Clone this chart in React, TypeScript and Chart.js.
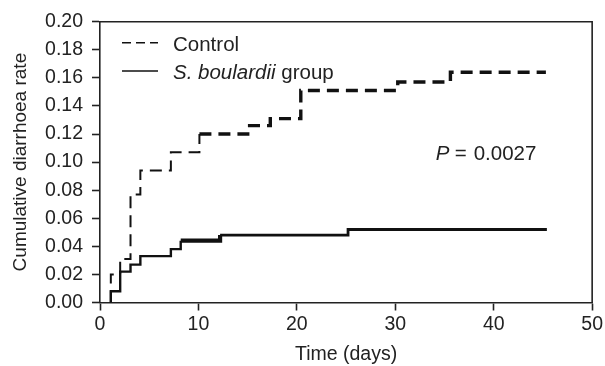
import { useEffect, useRef } from 'react';
import { Chart, registerables } from 'chart.js';

Chart.register(...registerables);

// ---- data ----
const controlDays = [1.1, 1.1, 2.05, 3.1, 4.1, 7.2, 10.1, 15.2, 17.3, 20.4, 30.25, 35.6, 45.3];
const controlRates = [0, 0.02, 0.031, 0.077, 0.094, 0.107, 0.12, 0.126, 0.131, 0.151, 0.157, 0.164, 0.164];
const boulardiiDays = [1.1, 1.1, 2.05, 3.1, 4.1, 7.2, 8.2, 12.2, 25.2, 45.4];
const boulardiiRates = [0, 0.008, 0.022, 0.027, 0.033, 0.038, 0.044, 0.048, 0.052, 0.052];
const xTickValues = [0, 10, 20, 30, 40, 50];
const yTickValues = [0, 0.02, 0.04, 0.06, 0.08, 0.1, 0.12, 0.14, 0.16, 0.18, 0.2];
const seriesNames = ['Control', 'S. boulardii', ' group'];
const pLetter = 'P';
const pEquals = '=';
const pNumber = '0.0027';
const xTitle = 'Time (days)';
const yTitle = 'Cumulative diarrhoea rate';

const FONT = "'Liberation Sans', Arial, Helvetica, sans-serif";
const INK = '#222';
const LINE = '#111';

const overlayPlugin = {
  id: 'overlay',
  afterDraw(chart: any) {
    const { ctx, chartArea } = chart;
    const { left, right, top, bottom } = chartArea;
    ctx.save();
    // top and right frame
    ctx.strokeStyle = INK;
    ctx.lineWidth = 1.6;
    ctx.setLineDash([]);
    ctx.beginPath();
    ctx.moveTo(left, top);
    ctx.lineTo(right, top);
    ctx.lineTo(right, bottom);
    ctx.stroke();

    // legend
    const lx0 = left + 22;
    const lx1 = left + 58;
    const tx = left + 73;
    const y1 = top + 21;
    const y2 = top + 49.3;
    ctx.strokeStyle = LINE;
    ctx.lineWidth = 1.6;
    ctx.setLineDash([9, 5]);
    ctx.beginPath();
    ctx.moveTo(lx0, y1);
    ctx.lineTo(lx1, y1);
    ctx.stroke();
    ctx.setLineDash([]);
    ctx.beginPath();
    ctx.moveTo(lx0, y2);
    ctx.lineTo(lx1, y2);
    ctx.stroke();

    ctx.fillStyle = INK;
    ctx.textAlign = 'left';
    ctx.textBaseline = 'alphabetic';
    ctx.font = `20.5px ${FONT}`;
    ctx.fillText(seriesNames[0], tx, y1 + 8.5);
    ctx.font = `italic 20.5px ${FONT}`;
    ctx.fillText(seriesNames[1], tx, y2 + 7.5);
    const w = ctx.measureText(seriesNames[1]).width;
    ctx.font = `20.5px ${FONT}`;
    ctx.fillText(seriesNames[2], tx + w, y2 + 7.5);

    // P value
    const px = chart.scales.x.getPixelForValue(34.1);
    const py = chart.scales.y.getPixelForValue(0.1013);
    ctx.font = `italic 20.5px ${FONT}`;
    ctx.fillText(pLetter, px, py);
    ctx.font = `20.5px ${FONT}`;
    ctx.fillText(pEquals, px + 19, py);
    ctx.fillText(pNumber, px + 38, py);
    ctx.restore();
  },
};

export default function App() {
  const ref = useRef<HTMLCanvasElement | null>(null);

  useEffect(() => {
    document.body.style.margin = '0';
    if (!ref.current) return;
    const chart = new Chart(ref.current, {
      type: 'line',
      data: {
        datasets: [
          {
            label: 'Control',
            data: controlDays.map((d, i) => ({ x: d, y: controlRates[i] })),
            borderColor: LINE,
            borderWidth: 2.6,
            borderDash: [12, 7],
            stepped: 'before',
            pointRadius: 0,
            fill: false,
            segment: {
              borderWidth: (c: any) => (c.p0.parsed.x < 10 ? 2 : 3.4),
            },
          },
          {
            label: 'S. boulardii group',
            data: boulardiiDays.map((d, i) => ({ x: d, y: boulardiiRates[i] })),
            borderColor: LINE,
            borderWidth: 2.6,
            stepped: 'before',
            pointRadius: 0,
            fill: false,
            segment: {
              borderWidth: (c: any) =>
                c.p0.parsed.x >= 8 && c.p0.parsed.x < 12 ? 4.2 : c.p0.parsed.x < 8 ? 2.4 : 2.8,
            },
          },
        ],
      },
      options: {
        animation: false,
        responsive: false,
        maintainAspectRatio: false,
        layout: { padding: { top: 21.7, right: 12.5, left: 0, bottom: 0 } },
        plugins: {
          legend: { display: false },
          tooltip: { enabled: false },
        },
        scales: {
          x: {
            type: 'linear',
            min: 0,
            max: 50,
            afterBuildTicks: (s: any) => {
              s.ticks = xTickValues.map((v) => ({ value: v }));
            },
            afterFit: (s: any) => {
              s.height = 63.5;
            },
            ticks: {
              color: INK,
              font: { family: FONT, size: 19.5 },
              padding: 2,
              maxRotation: 0,
              callback: (v: any) => String(v),
            },
            grid: {
              display: true,
              drawOnChartArea: false,
              drawTicks: true,
              tickLength: 8,
              tickWidth: 1.6,
              tickColor: INK,
            },
            border: { display: true, color: INK, width: 1.6 },
            title: {
              display: true,
              text: xTitle,
              color: INK,
              font: { family: FONT, size: 19.5 },
              padding: { top: 0, bottom: 0 },
            },
          },
          y: {
            type: 'linear',
            min: 0,
            max: 0.2,
            afterBuildTicks: (s: any) => {
              s.ticks = yTickValues.map((v) => ({ value: v }));
            },
            afterFit: (s: any) => {
              s.width = 100;
            },
            ticks: {
              color: INK,
              font: { family: FONT, size: 19.5 },
              padding: 9,
              callback: (v: any) => Number(v).toFixed(2),
            },
            grid: {
              display: true,
              drawOnChartArea: false,
              drawTicks: true,
              tickLength: 8,
              tickWidth: 1.6,
              tickColor: INK,
            },
            border: { display: true, color: INK, width: 1.6 },
            title: {
              display: true,
              text: yTitle,
              color: INK,
              font: { family: FONT, size: 19 },
              padding: { top: 9, bottom: 0 },
            },
          },
        },
      },
      plugins: [overlayPlugin],
    });
    return () => chart.destroy();
  }, []);

  return (
    <div style={{ width: 605, height: 366, background: '#fff' }}>
      <canvas ref={ref} width={605} height={366} style={{ display: 'block', width: 605, height: 366 }} />
    </div>
  );
}
